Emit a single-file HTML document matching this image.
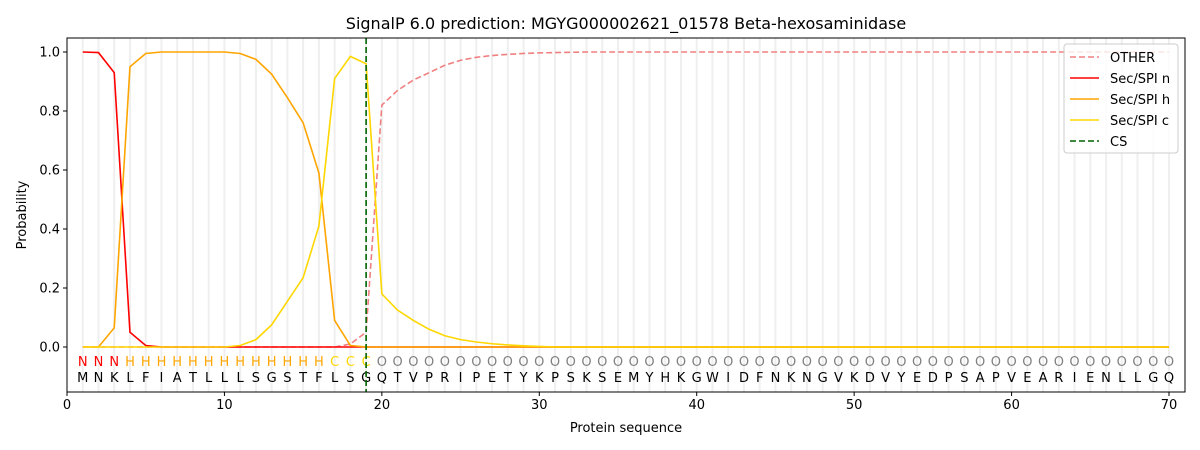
<!DOCTYPE html>
<html><head><meta charset="utf-8"><style>body{margin:0;background:#fff}svg{display:block}text{font-family:"DejaVu Sans","Liberation Sans",sans-serif}</style></head>
<body><svg id="s" width="1200" height="450" xmlns="http://www.w3.org/2000/svg"></svg>
<script>
const s=document.getElementById('s');let h='';
const L=67,R=1185,T=38,B=392;
const X=v=>L+v*15.743,Y=v=>347-v*295;
for(let i=1;i<=70;i++)h+=`<line x1="${X(i)}" x2="${X(i)}" y1="${T}" y2="${B}" stroke="#efefef" stroke-width="2"/>`;
const seq="MNKLFIATLLLSGSTFLSGQTVPRIPETYKPSKSEMYHKGWIDFNKNGVKDVYEDPSAPVEARIENLLGQ";
for(let i=1;i<=70;i++){let lab,c;if(i<=3){lab='N';c='red'}else if(i<=16){lab='H';c='orange'}else if(i<=19){lab='C';c='#ffd700'}else{lab='O';c='gray'}
h+=`<text x="${X(i)}" y="366" font-size="13" text-anchor="middle" fill="${c}">${lab}</text><text x="${X(i)}" y="382" font-size="13" text-anchor="middle" fill="#000">${seq[i-1]}</text>`;}
function arr(m,def){let a=[];for(let i=1;i<=70;i++)a.push(m[i]!==undefined?m[i]:def(i));return a}
const n=arr({1:1,2:0.998,3:0.93,4:0.05,5:0.005},()=>0);
const hh=arr({3:0.065,4:0.95,5:0.995,11:0.995,12:0.975,13:0.925,14:0.845,15:0.76,16:0.59,17:0.09,18:0.005},i=>(i>=6&&i<=10)?1:0);
const c=arr({11:0.005,12:0.025,13:0.075,14:0.155,15:0.235,16:0.41,17:0.91,18:0.985,19:0.96,20:0.18,21:0.125,22:0.09,23:0.06,24:0.038,25:0.025,26:0.017,27:0.011,28:0.007,29:0.004,30:0.002},()=>0);
const o=arr({18:0.01,19:0.05,20:0.82,21:0.87,22:0.905,23:0.93,24:0.955,25:0.972,26:0.982,27:0.988,28:0.992,29:0.995,30:0.997,31:0.998,32:0.999},i=>i<18?0:1);
const P=(a,col,d)=>`<polyline fill="none" stroke="${col}" stroke-width="1.6" ${d?'stroke-dasharray="6,3"':''} points="${a.map((v,i)=>X(i+1)+','+Y(v)).join(' ')}"/>`;
h+=P(o,'#f08080',1)+P(n,'red')+P(hh,'orange')+P(c,'#ffd700');
h+=`<line x1="${X(19)}" x2="${X(19)}" y1="${T}" y2="${B}" stroke="#006400" stroke-width="1.6" stroke-dasharray="6,3"/>`;
h+=`<rect x="${L}" y="${T}" width="${R-L}" height="${B-T}" fill="none" stroke="#000"/>`;
for(let v=0;v<=70;v+=10)h+=`<line x1="${X(v)}" x2="${X(v)}" y1="${B}" y2="${B+4}" stroke="#000"/><text x="${X(v)}" y="${B+17}" font-size="13" text-anchor="middle">${v}</text>`;
for(let v=0;v<=5;v++){let val=v*0.2;h+=`<line x1="${L-4}" x2="${L}" y1="${Y(val)}" y2="${Y(val)}" stroke="#000"/><text x="${L-7}" y="${Y(val)+4.5}" font-size="13" text-anchor="end">${val.toFixed(1)}</text>`;}
h+=`<text x="626" y="432" font-size="13" text-anchor="middle">Protein sequence</text>`;
h+=`<text transform="translate(26,215) rotate(-90)" font-size="13" text-anchor="middle">Probability</text>`;
h+=`<text x="626" y="29" font-size="16" text-anchor="middle">SignalP 6.0 prediction: MGYG000002621_01578 Beta-hexosaminidase</text>`;
h+=`<rect x="1064" y="44" width="114" height="109" rx="3" fill="#fff" fill-opacity="0.8" stroke="#ccc"/>`;
const lg=[['OTHER','#f08080',1],['Sec/SPI n','red'],['Sec/SPI h','orange'],['Sec/SPI c','#ffd700'],['CS','#006400',1]];
lg.forEach((e,i)=>{let y=57+i*21;h+=`<line x1="1070" x2="1099" y1="${y}" y2="${y}" stroke="${e[1]}" stroke-width="1.6" ${e[2]?'stroke-dasharray="6,3"':''}/><text x="1110" y="${y+5}" font-size="13">${e[0]}</text>`});
s.innerHTML=h;
</script></body></html>
